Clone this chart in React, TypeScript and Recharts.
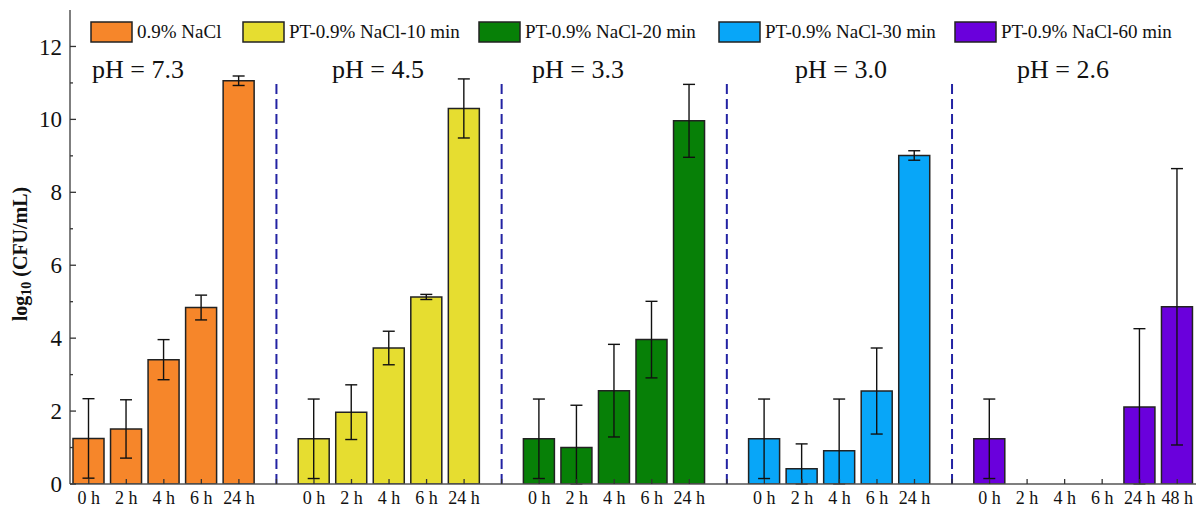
import { BarChart, Bar, XAxis, YAxis, ErrorBar, Cell, ReferenceLine } from "recharts";

const seriesNames = [
  "0.9% NaCl",
  "PT-0.9% NaCl-10 min",
  "PT-0.9% NaCl-20 min",
  "PT-0.9% NaCl-30 min",
  "PT-0.9% NaCl-60 min",
];
const seriesColors = ["#f6862a", "#e6dd30", "#078007", "#08a6f8", "#6a00dc"];
const pHLabels = ["pH = 7.3", "pH = 4.5", "pH = 3.3", "pH = 3.0", "pH = 2.6"];

const times5 = ["0 h", "2 h", "4 h", "6 h", "24 h"];
const times6 = ["0 h", "2 h", "4 h", "6 h", "24 h", "48 h"];

const naclMean = [1.25, 1.51, 3.41, 4.84, 11.06];
const naclErr = [1.09, 0.8, 0.55, 0.34, 0.13];
const pt10Mean = [1.24, 1.97, 3.73, 5.13, 10.3];
const pt10Err = [1.09, 0.75, 0.46, 0.07, 0.81];
const pt20Mean = [1.24, 1.0, 2.56, 3.96, 9.96];
const pt20Err = [1.09, 1.16, 1.27, 1.05, 1.0];
const pt30Mean = [1.24, 0.42, 0.91, 2.55, 9.01];
const pt30Err = [1.09, 0.68, 1.42, 1.18, 0.13];
const pt60Mean = [1.24, 0, 0, 0, 2.11, 4.86];
const pt60Err = [1.09, null, null, null, 2.15, 3.79];

const yTicks = [0, 1, 2, 3, 4, 5, 6, 7, 8, 9, 10, 11, 12, 13];

const FONT = "'Liberation Serif', 'Times New Roman', serif";

type Row = {
  key: string;
  label: string;
  value: number | null;
  err: [number, number] | null;
  group: number;
};

const groupTimes = [times5, times5, times5, times5, times6];
const groupMeans = [naclMean, pt10Mean, pt20Mean, pt30Mean, pt60Mean];
const groupErrs = [naclErr, pt10Err, pt20Err, pt30Err, pt60Err];

// lower whisker stops at the x axis (log counts can't go below 0 on this plot)
const data: Row[] = [];
const gapKeys: string[] = [];
groupTimes.forEach((times, g) => {
  times.forEach((t, i) => {
    const v = groupMeans[g][i];
    const e = groupErrs[g][i];
    data.push({
      key: `g${g}-${i}`,
      label: t,
      value: v,
      err: e == null ? null : [Math.min(e, v), e],
      group: g,
    });
  });
  if (g < groupTimes.length - 1) {
    const k = `gap-${g}`;
    gapKeys.push(k);
    data.push({ key: k, label: "", value: null, err: null, group: -1 });
  }
});

const labelByKey: Record<string, string> = {};
data.forEach((d) => (labelByKey[d.key] = d.label));

const XTick = (props: any) => {
  const { x, y, payload } = props;
  return (
    <g>
      <line x1={x} x2={x} y1={y} y2={y - 5} stroke="#333" strokeWidth={1.3} />
      <text x={x} y={y + 20} textAnchor="middle" fontSize={18} fontFamily={FONT} fill="#111">
        {labelByKey[payload.value]}
      </text>
    </g>
  );
};

const YTick = (props: any) => {
  const { x, y, payload } = props;
  const v = payload.value;
  if (v === 13) return null;
  const major = v % 2 === 0;
  return (
    <g>
      <line x1={x} x2={x + (major ? 6 : 3)} y1={y} y2={y} stroke="#333" strokeWidth={1.3} />
      {major && (
        <text x={x - 8} y={y} dy="0.35em" textAnchor="end" fontSize={23} fontFamily={FONT} fill="#111">
          {v}
        </text>
      )}
    </g>
  );
};

const legendLefts = [91, 243, 479, 719, 955];
const pHLefts = [92, 332, 532, 795, 1017];

export default function App() {
  return (
    <div style={{ position: "absolute", left: 0, top: 0, width: 1198, height: 510, background: "#fff" }}>
      <BarChart
        width={1198}
        height={510}
        data={data}
        margin={{ top: 10, right: 2, bottom: 0, left: 0 }}
        barSize={31}
      >
        <XAxis
          dataKey="key"
          interval={0}
          tickSize={0}
          tickMargin={0}
          height={26}
          tick={<XTick />}
          axisLine={{ stroke: "#555", strokeWidth: 1.5 }}
        />
        <XAxis
          xAxisId="top"
          orientation="top"
          dataKey="key"
          height={0}
          tick={false}
          tickLine={false}
          axisLine={{ stroke: "#555", strokeWidth: 1.5 }}
        />
        <YAxis
          domain={[0, 13]}
          allowDataOverflow
          ticks={yTicks}
          interval={0}
          width={70}
          tickSize={0}
          tickMargin={0}
          tick={<YTick />}
          axisLine={{ stroke: "#555", strokeWidth: 1.5 }}
        />
        <YAxis
          yAxisId="r"
          orientation="right"
          domain={[0, 13]}
          allowDataOverflow
          width={0}
          tick={false}
          tickLine={false}
          axisLine={{ stroke: "#555", strokeWidth: 1.5 }}
        />
        {gapKeys.map((k) => (
          <ReferenceLine
            key={k}
            segment={[
              { x: k, y: 0 },
              { x: k, y: 11.1 },
            ]}
            stroke="#2323a3"
            strokeWidth={2}
            strokeDasharray="10 5"
          />
        ))}
        <Bar dataKey="value" stroke="#222" strokeWidth={1.5} isAnimationActive={false}>
          {data.map((d) => (
            <Cell key={d.key} fill={d.group >= 0 ? seriesColors[d.group] : "none"} />
          ))}
          <ErrorBar dataKey="err" width={6} stroke="#111" strokeWidth={1.4} direction="y" />
        </Bar>
      </BarChart>
      <svg width={1198} height={510} style={{ position: "absolute", left: 0, top: 0, pointerEvents: "none" }}>
        {seriesNames.map((name, i) => (
          <g key={name}>
            <rect x={legendLefts[i]} y={22} width={41} height={20} fill={seriesColors[i]} stroke="#222" strokeWidth={1.5} />
            <text x={legendLefts[i] + 46} y={38} fontSize={19} fontFamily={FONT} fill="#111">
              {name}
            </text>
          </g>
        ))}
        {pHLabels.map((p, i) => (
          <text key={p} x={pHLefts[i]} y={78} fontSize={26} fontFamily={FONT} fill="#111">
            {p}
          </text>
        ))}
        <text
          transform="translate(27 254) rotate(-90)"
          textAnchor="middle"
          fontSize={20}
          fontWeight="bold"
          fontFamily={FONT}
          fill="#111"
        >
          log
          <tspan fontSize={14} dy={4}>10</tspan>
          <tspan dy={-4}> (CFU/mL)</tspan>
        </text>
      </svg>
    </div>
  );
}
